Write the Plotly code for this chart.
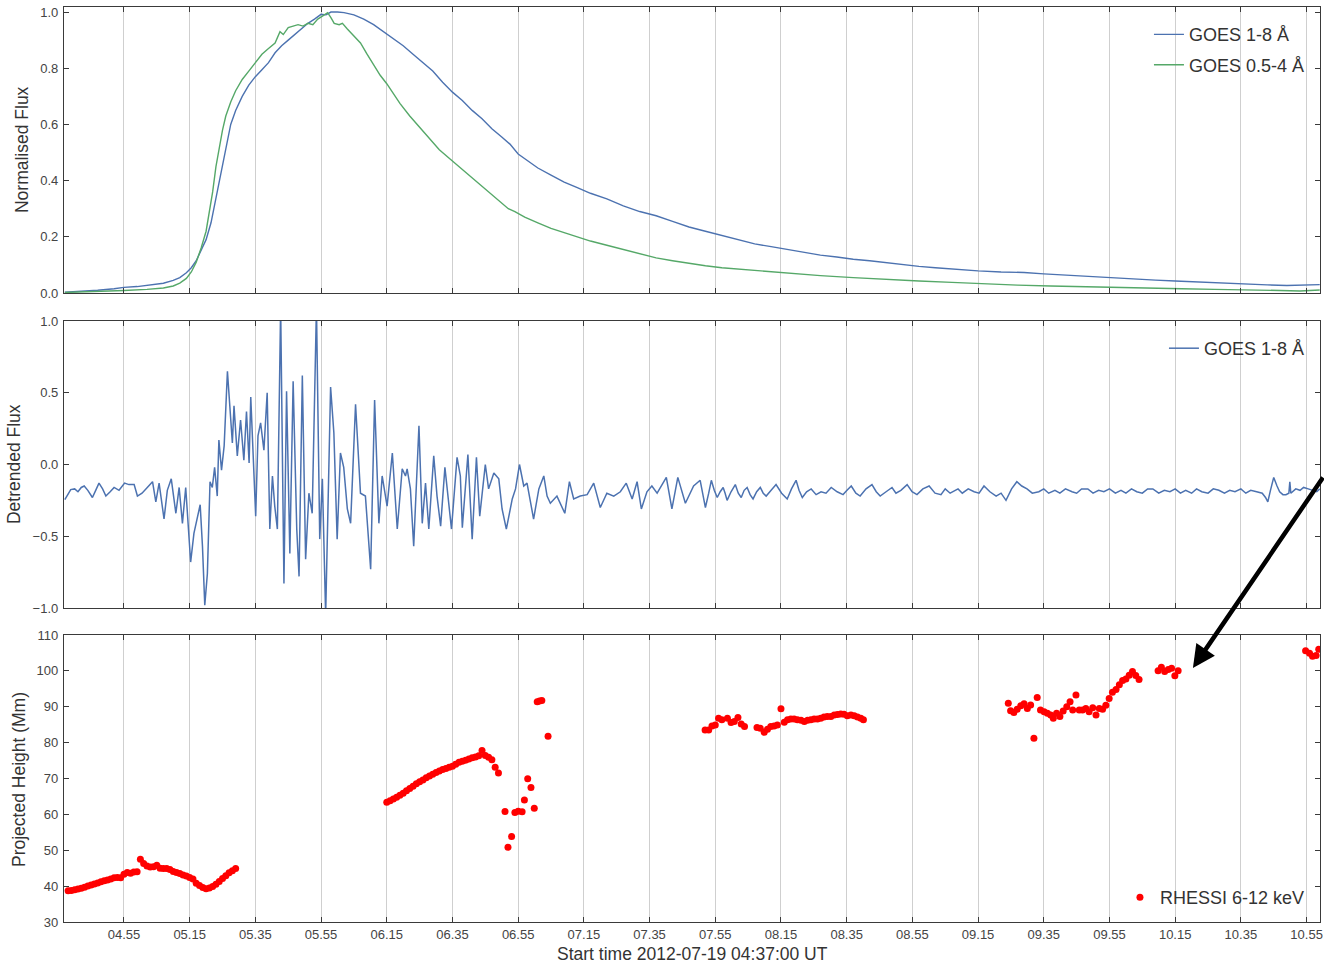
import pandas as pd
import plotly.graph_objects as go
from plotly.subplots import make_subplots

START = pd.Timestamp("2012-07-19 04:37:00")

# ---------------- data (minutes after start time) ----------------
goes_long_t = [0, 5, 10, 15, 18, 22, 26, 30, 33, 35, 37, 38.5, 40, 41.5, 43, 44.5, 46, 47.5, 49, 50.5,
               52, 54, 56, 58, 60, 62, 64, 66, 68, 70, 72, 74, 76, 78, 79.5, 81, 83, 85, 88, 91,
               94, 97, 100, 103, 106, 109, 112, 115, 118, 121, 124, 127, 130, 133, 135.5, 138, 141, 144, 148, 152,
               156, 160, 165, 170, 175, 180, 185, 190, 195, 200, 205, 210, 215, 220, 225, 230, 235, 240, 245, 250,
               255, 260, 265, 270, 278, 285, 292, 298, 305, 312, 318, 325, 332, 338, 345, 352, 359, 366, 372, 377, 382]
goes_long = [0.003, 0.006, 0.010, 0.015, 0.020, 0.023, 0.028, 0.035, 0.045, 0.055, 0.072, 0.090, 0.115, 0.150, 0.190, 0.250, 0.340, 0.430, 0.520, 0.600,
             0.650, 0.700, 0.740, 0.770, 0.795, 0.820, 0.855, 0.880, 0.900, 0.920, 0.940, 0.960, 0.975, 0.992, 0.990, 1.000, 1.000, 0.998, 0.990, 0.975,
             0.955, 0.930, 0.905, 0.880, 0.850, 0.820, 0.790, 0.750, 0.715, 0.685, 0.650, 0.620, 0.585, 0.555, 0.530, 0.495, 0.470, 0.445, 0.420, 0.395,
             0.375, 0.355, 0.335, 0.310, 0.290, 0.275, 0.255, 0.235, 0.220, 0.205, 0.190, 0.175, 0.165, 0.155, 0.145, 0.135, 0.128, 0.120, 0.115, 0.108,
             0.100, 0.095, 0.090, 0.085, 0.079, 0.075, 0.073, 0.068, 0.063, 0.058, 0.055, 0.050, 0.046, 0.043, 0.039, 0.035, 0.032, 0.029, 0.027, 0.029, 0.030]

goes_short_t = [0, 10, 18, 25, 30, 33, 35, 37, 38.5, 40, 41.5, 43, 44, 45, 46, 47, 48, 49, 50.5, 52,
                54, 56, 58, 60, 62, 64, 65.5, 66.5, 68, 69.5, 71, 72.5, 74, 75.5, 77, 79, 80, 81, 82, 83.5,
                84.5, 86, 88, 90, 92, 94, 96, 98, 100, 102, 105, 108, 111, 114, 117, 120, 123, 126, 129, 132,
                135, 137, 140, 144, 148, 152, 156, 160, 165, 170, 175, 180, 185, 190, 195, 200, 210, 220, 230, 240,
                250, 260, 270, 280, 290, 300, 310, 320, 330, 340, 350, 360, 370, 376, 382]
goes_short = [0.002, 0.005, 0.009, 0.013, 0.018, 0.025, 0.035, 0.052, 0.075, 0.110, 0.160, 0.220, 0.290, 0.360, 0.450, 0.520, 0.580, 0.630, 0.680, 0.720,
              0.760, 0.790, 0.820, 0.850, 0.870, 0.890, 0.930, 0.920, 0.945, 0.950, 0.955, 0.950, 0.960, 0.955, 0.975, 0.990, 0.998, 0.980, 0.960, 0.955,
              0.960, 0.940, 0.915, 0.890, 0.850, 0.810, 0.775, 0.745, 0.710, 0.675, 0.630, 0.590, 0.550, 0.510, 0.480, 0.450, 0.420, 0.390, 0.360, 0.330,
              0.300, 0.290, 0.270, 0.250, 0.230, 0.215, 0.200, 0.185, 0.170, 0.155, 0.140, 0.125, 0.115, 0.105, 0.097, 0.090, 0.080, 0.070, 0.062, 0.055,
              0.048, 0.043, 0.038, 0.032, 0.028, 0.025, 0.022, 0.020, 0.018, 0.015, 0.013, 0.012, 0.009, 0.007, 0.011]

detrended_t = [0, 1.0, 1.8, 3, 4, 5, 5.9, 7, 8.4, 9.4, 10.4, 11.5, 12.5, 13.8, 15, 16.5, 18.2, 19.5, 21.1, 22.1,
               23.5, 25.1, 26.7, 27.7, 28.7, 30.2, 31.2, 32.4, 33.8, 34.8, 35.8, 36.8, 38.3, 39.3, 40.4, 41.2, 41.9, 42.6, 43.4, 44.2,
               44.9, 45.6, 46.4, 46.9, 47.7, 48.5, 49.5, 50.3, 51.0, 51.5, 52.5, 53.5, 54.5, 55.3, 56.1, 56.6, 57.4, 58.1, 58.8, 59.6,
               60.6, 61.6, 62.4, 63.2, 63.9, 64.7, 65.7, 66.7, 67.5, 68.5, 69.5, 70.6, 71.3, 72.3, 73.3, 74.3, 75.3, 76.6, 77.6, 78.4,
               79.4, 80.9, 81.9, 82.9, 83.9, 84.9, 86.0, 87.0, 88.5, 90.0, 91.5, 93.1, 94.3, 95.6, 96.6, 98.1, 99.7, 101.2, 102.7, 103.7,
               104.2, 105.2, 106.2, 107.8, 108.8, 109.8, 110.8, 112.3, 113.3, 114.4, 115.7, 116.4, 117.7, 119.4, 120.4, 121.0, 122.7, 124.0, 125.3, 126.3,
               128.0, 129.0, 130.6, 132.1, 133.1, 134.4, 136.2, 137.2, 138.4, 139.7, 140.7, 142.7, 144.3, 145.8, 146.8, 147.8, 149.8, 152.2, 153.6, 154.9,
               156.9, 159.0, 161.0, 163.0, 165.0, 167.1, 169.1, 170.9, 172.7, 174.2, 175.5, 177.2, 178.7, 180.3, 183.1, 184.8, 186.6, 188.9, 191.4, 193.4,
               194.2, 195.0, 196.0, 196.8, 197.7, 198.6, 199.5, 200.4, 201.0, 201.6, 202.8, 204.1, 205.0, 205.9, 206.8, 207.7, 208.6, 209.5, 210.6, 211.7,
               212.6, 213.5, 215.0, 216.5, 218.2, 219.9, 221.2, 222.6, 223.5, 224.5, 225.8, 227.2, 228.7, 230.2, 231.7, 233.3, 235.1, 236.9, 238.1, 239.4,
               240.8, 242.1, 243.9, 245.7, 247.0, 248.2, 250.0, 251.8, 253.0, 254.5, 256.4, 257.9, 259.4, 261.2, 263.1, 264.9, 266.7, 268.0, 269.5, 271.9,
               273.2, 275.0, 276.8, 278.3, 279.8, 281.6, 283.5, 285.0, 286.5, 288.2, 289.8, 291.3, 292.9, 294.5, 296.5, 298.0, 299.5, 301.4, 302.9, 304.6,
               306.6, 308.0, 309.5, 311.4, 313.0, 314.7, 316.3, 318.0, 319.8, 321.5, 323.0, 324.7, 326.3, 328.0, 329.6, 331.2, 333.0, 334.7, 336.4, 338.0,
               339.6, 341.2, 343.0, 344.5, 346.1, 348.0, 349.6, 351.3, 353.0, 354.6, 356.2, 358.0, 359.5, 361.0, 362.8, 364.5, 365.5, 366.2, 367.0, 368.0,
               369.0, 369.8, 370.8, 371.7, 372.6, 372.9, 373.2, 374.7, 376.0, 377.1, 378.5, 379.8, 381.1, 382.0]
detrended = [-0.245, -0.20, -0.175, -0.17, -0.19, -0.16, -0.15, -0.18, -0.23, -0.18, -0.13, -0.17, -0.22, -0.19, -0.16, -0.18, -0.13, -0.14, -0.14, -0.22,
             -0.20, -0.16, -0.12, -0.26, -0.13, -0.38, -0.18, -0.10, -0.34, -0.16, -0.41, -0.16, -0.68, -0.48, -0.36, -0.28, -0.57, -0.98, -0.76, -0.12,
             -0.16, -0.02, -0.22, 0.17, -0.04, 0.13, 0.65, 0.36, 0.15, 0.41, 0.06, 0.31, 0.03, 0.37, 0.01, 0.47, -0.01, -0.36, 0.20, 0.29,
             0.10, 0.50, -0.45, -0.08, -0.29, -0.45, 1.10, -0.83, 0.51, -0.62, 0.58, -0.45, -0.78, 0.62, -0.66, -0.20, -0.34, 1.10, -0.52, -0.10,
             -1.05, 0.54, 0.22, -0.52, 0.08, -0.02, -0.31, -0.41, 0.42, -0.20, -0.22, -0.73, 0.45, -0.41, -0.08, -0.29, 0.08, -0.45, -0.03, -0.08,
             -0.03, -0.17, -0.57, 0.27, -0.41, -0.13, -0.45, 0.06, -0.22, -0.43, -0.02, -0.17, -0.45, 0.05, -0.08, -0.44, 0.07, -0.52, 0.05, -0.36,
             0.00, -0.17, -0.06, -0.10, -0.31, -0.45, -0.24, -0.17, 0.00, -0.15, -0.13, -0.38, -0.17, -0.08, -0.22, -0.27, -0.22, -0.34, -0.12, -0.24,
             -0.22, -0.21, -0.13, -0.30, -0.20, -0.22, -0.19, -0.13, -0.24, -0.12, -0.31, -0.19, -0.15, -0.20, -0.09, -0.31, -0.09, -0.27, -0.15, -0.11,
             -0.20, -0.30, -0.20, -0.11, -0.18, -0.23, -0.19, -0.16, -0.20, -0.25, -0.19, -0.14, -0.20, -0.23, -0.18, -0.16, -0.21, -0.24, -0.19, -0.16,
             -0.20, -0.22, -0.18, -0.14, -0.20, -0.24, -0.17, -0.11, -0.18, -0.23, -0.19, -0.17, -0.21, -0.19, -0.20, -0.16, -0.19, -0.21, -0.18, -0.15,
             -0.20, -0.22, -0.17, -0.14, -0.19, -0.22, -0.19, -0.16, -0.20, -0.18, -0.14, -0.19, -0.21, -0.17, -0.15, -0.20, -0.21, -0.17, -0.20, -0.17,
             -0.20, -0.17, -0.19, -0.20, -0.15, -0.19, -0.22, -0.20, -0.25, -0.17, -0.12, -0.15, -0.17, -0.20, -0.19, -0.17, -0.20, -0.18, -0.20, -0.17,
             -0.19, -0.20, -0.17, -0.17, -0.20, -0.18, -0.19, -0.17, -0.20, -0.18, -0.20, -0.17, -0.19, -0.20, -0.17, -0.17, -0.20, -0.18, -0.19, -0.17,
             -0.20, -0.18, -0.20, -0.17, -0.19, -0.20, -0.17, -0.18, -0.20, -0.18, -0.19, -0.17, -0.20, -0.18, -0.19, -0.20, -0.23, -0.26, -0.18, -0.09,
             -0.15, -0.19, -0.21, -0.21, -0.20, -0.12, -0.20, -0.17, -0.18, -0.16, -0.17, -0.18, -0.19, -0.17]

rhessi_t = [1, 2, 3, 4, 5, 6, 7, 8, 9, 10, 11, 12, 13, 14, 15, 16, 17, 18, 19, 20, 21, 22,
            23, 24, 25, 26, 27, 28, 29, 30, 31, 32, 33, 34, 35, 36, 37, 38, 39, 40, 41, 42, 43, 44, 45, 46, 47, 48, 49, 50, 51, 52,
            98, 99, 100, 101, 102, 103, 104, 105, 106, 107, 108, 109, 110, 111, 112, 113, 114, 115, 116, 117, 118, 119, 120, 121, 122, 123, 124, 125, 126, 127, 128, 129, 130, 131, 132,
            134.0, 134.9, 136.0, 137.0, 138.0, 139.2, 139.9, 140.9, 141.9, 142.9, 143.8, 144.5, 145.2, 147.1,
            194.9, 196, 197, 198, 199, 200, 201.7, 202.8, 203.8, 204.9, 205.9, 206.9, 210.7, 211.7, 212.9, 213.9, 214.9, 215.9, 216.9, 218,
            219, 220, 221, 222, 223, 224.1, 225.1, 226.1, 227.1, 228.1, 229.1, 230.1, 231.1, 232.1, 233.2, 234.2, 235.2, 236.2, 237.2, 238.2,
            239.3, 240.3, 241.3, 242.3, 243.1,
            287.2, 287.9, 288.9, 289.9, 291, 292, 293, 294, 295, 296, 297, 298.1, 299.1, 300.1, 300.9, 301.9, 302.9, 303.9, 305, 306,
            306.8, 307.8, 308.8, 309.8, 310.8, 311.8, 312.9, 313.9, 314.9, 315.9, 316.9, 317.9, 318.9, 320, 321, 322, 323, 324, 325, 326, 327,
            332.8, 333.8, 334.8, 335.9, 336.9, 337.9, 338.9,
            377.7, 378.9, 379.8, 380.9, 381.7]
rhessi_h = [38.7, 38.8, 39.0, 39.2, 39.4, 39.7, 40.0, 40.3, 40.6, 40.9, 41.2, 41.5, 41.7, 42.0, 42.3, 42.4, 42.3, 43.3, 43.8, 43.6, 43.9, 44.0,
            47.5, 46.3, 45.6, 45.3, 45.4, 45.8, 45.0, 44.9, 44.9, 44.6, 44.1, 43.8, 43.5, 43.1, 42.8, 42.4, 42.0, 40.8, 40.2, 39.6, 39.3, 39.5, 39.9, 40.5, 41.3, 42.1, 42.9, 43.7, 44.3, 44.9,
            63.4, 63.8, 64.3, 64.8, 65.3, 65.9, 66.6, 67.2, 67.8, 68.5, 69.1, 69.6, 70.2, 70.7, 71.2, 71.7, 72.1, 72.5, 72.8, 73.1, 73.4, 74.0, 74.5, 74.8, 75.1, 75.4, 75.8, 76.0, 76.3, 77.8, 76.4, 75.9, 75.2, 73.1, 71.5,
            60.8, 50.8, 53.8, 60.5, 60.9, 60.7, 64.0, 69.9, 67.5, 61.7, 91.4, 91.6, 91.7, 81.8,
            83.5, 83.5, 84.6, 84.9, 86.8, 86.4, 86.8, 85.6, 85.9, 87.0, 85.2, 84.5, 84.2, 84.0, 82.9, 83.7, 84.5, 84.6, 84.9, 89.4,
            85.7, 86.4, 86.6, 86.6, 86.4, 86.2, 85.9, 86.2, 86.4, 86.6, 86.6, 86.8, 87.1, 87.3, 87.3, 87.7, 87.8, 88.0, 87.9, 87.5,
            87.7, 87.5, 87.1, 86.8, 86.4,
            91.0, 88.9, 88.4, 89.3, 90.3, 90.8, 89.5, 90.5, 81.2, 92.6, 89.1, 88.6, 88.2, 87.7, 86.8, 88.2, 87.3, 88.8, 90.0, 91.4,
            89.1, 93.3, 89.1, 89.1, 89.5, 88.6, 89.7, 87.7, 89.5, 89.3, 90.4, 92.3, 94.0, 94.8, 96.1, 97.3, 97.7, 98.8, 99.8, 98.7, 97.6,
            100.05, 101.0, 99.8, 100.4, 100.7, 98.6, 100.0,
            105.6, 104.9, 104.1, 104.3, 106.0]

arrow_tip_t = 343.4
arrow_tip_h = 100.8

x_label = "Start time 2012-07-19 04:37:00 UT"


def to_time(mins):
    return [START + pd.Timedelta(minutes=m) for m in mins]


BLUE = "#4C72B0"
GREEN = "#55A868"
FONT = "Liberation Sans, Arial, sans-serif"
TXT = "#333333"

fig = make_subplots(rows=3, cols=1, shared_xaxes=True)

fig.add_trace(go.Scatter(x=to_time(goes_long_t), y=goes_long, mode="lines",
                         line=dict(color=BLUE, width=1.4), name="GOES 1-8 Å",
                         legend="legend", legendgroup="a"), row=1, col=1)
fig.add_trace(go.Scatter(x=to_time(goes_short_t), y=goes_short, mode="lines",
                         line=dict(color=GREEN, width=1.4), name="GOES 0.5-4 Å",
                         legend="legend", legendgroup="b"), row=1, col=1)
fig.add_trace(go.Scatter(x=to_time(detrended_t), y=detrended, mode="lines",
                         line=dict(color=BLUE, width=1.5), name="GOES 1-8 Å",
                         legend="legend2"), row=2, col=1)
fig.add_trace(go.Scatter(x=to_time(rhessi_t), y=rhessi_h, mode="markers",
                         marker=dict(color="#FF0000", size=7, line=dict(width=0)),
                         name="RHESSI 6-12 keV", legend="legend3"), row=3, col=1)

x_range = ["2012-07-19 04:36:45", "2012-07-19 10:59:05"]
axis_common = dict(showline=True, linecolor="#3a3a3a", linewidth=1.3, mirror="ticks",
                   ticks="inside", ticklen=5, tickcolor="#3a3a3a", tickwidth=1,
                   tickfont=dict(family=FONT, size=13, color="#444444"), zeroline=False)

for i, ax in enumerate(["xaxis", "xaxis2", "xaxis3"]):
    fig.layout[ax].update(range=x_range, tick0="2012-07-19 04:55:00", dtick=20 * 60 * 1000,
                          tickformat="%H.%M", showgrid=True, gridcolor="#cfcfcf", gridwidth=1,
                          showticklabels=(i == 2), **axis_common)

fig.layout.yaxis.update(domain=[0.6874, 1.0], range=[0, 1.018], tickvals=[0, 0.2, 0.4, 0.6, 0.8, 1.0],
                        tickformat=".1f", showgrid=False, ticklabelstandoff=2, **axis_common)
fig.layout.yaxis2.update(domain=[0.3432, 0.6568], range=[-1, 1], tickvals=[-1, -0.5, 0, 0.5, 1],
                         tickformat=".1f", showgrid=False, ticklabelstandoff=2, **axis_common)
fig.layout.yaxis3.update(domain=[0, 0.3137], range=[30, 110], tickvals=list(range(30, 111, 10)),
                         showgrid=False, ticklabelstandoff=2, **axis_common)

legend_common = dict(xanchor="right", yanchor="top", bgcolor="rgba(0,0,0,0)",
                     font=dict(family=FONT, size=18, color=TXT), tracegroupgap=4, itemwidth=30)
fig.update_layout(
    legend=dict(x=0.992, y=0.990, **legend_common),
    legend2=dict(x=0.992, y=0.647, **legend_common),
    legend3=dict(x=0.992, y=0.047, **legend_common),
)

LBL = 17.5
annotations = [
    dict(text="Normalised Flux", x=-0.0334, y=0.8437, xref="paper", yref="paper", textangle=-90,
         showarrow=False, xanchor="center", yanchor="middle", font=dict(family=FONT, size=LBL, color=TXT)),
    dict(text="Detrended Flux", x=-0.0398, y=0.5005, xref="paper", yref="paper", textangle=-90,
         showarrow=False, xanchor="center", yanchor="middle", font=dict(family=FONT, size=LBL, color=TXT)),
    dict(text="Projected Height (Mm)", x=-0.0358, y=0.1552, xref="paper", yref="paper", textangle=-90,
         showarrow=False, xanchor="center", yanchor="middle", font=dict(family=FONT, size=LBL, color=TXT)),
    dict(text=x_label, x=0.5004, y=-0.035, xref="paper", yref="paper", showarrow=False,
         xanchor="center", yanchor="middle", font=dict(family=FONT, size=LBL, color=TXT)),
    dict(text="", x=(START + pd.Timedelta(minutes=arrow_tip_t)).strftime("%Y-%m-%d %H:%M:%S"),
         y=arrow_tip_h, xref="x3", yref="y3", ax=137, ay=-192, showarrow=True,
         arrowhead=2, arrowsize=1.0, arrowwidth=4.5, arrowcolor="black"),
]

fig.update_layout(width=1324, height=964, margin=dict(l=64, r=4, t=7, b=42, autoexpand=False),
                  plot_bgcolor="white", paper_bgcolor="white", annotations=annotations,
                  font=dict(family=FONT, color=TXT), showlegend=True)

fig.write_html("out.html")
